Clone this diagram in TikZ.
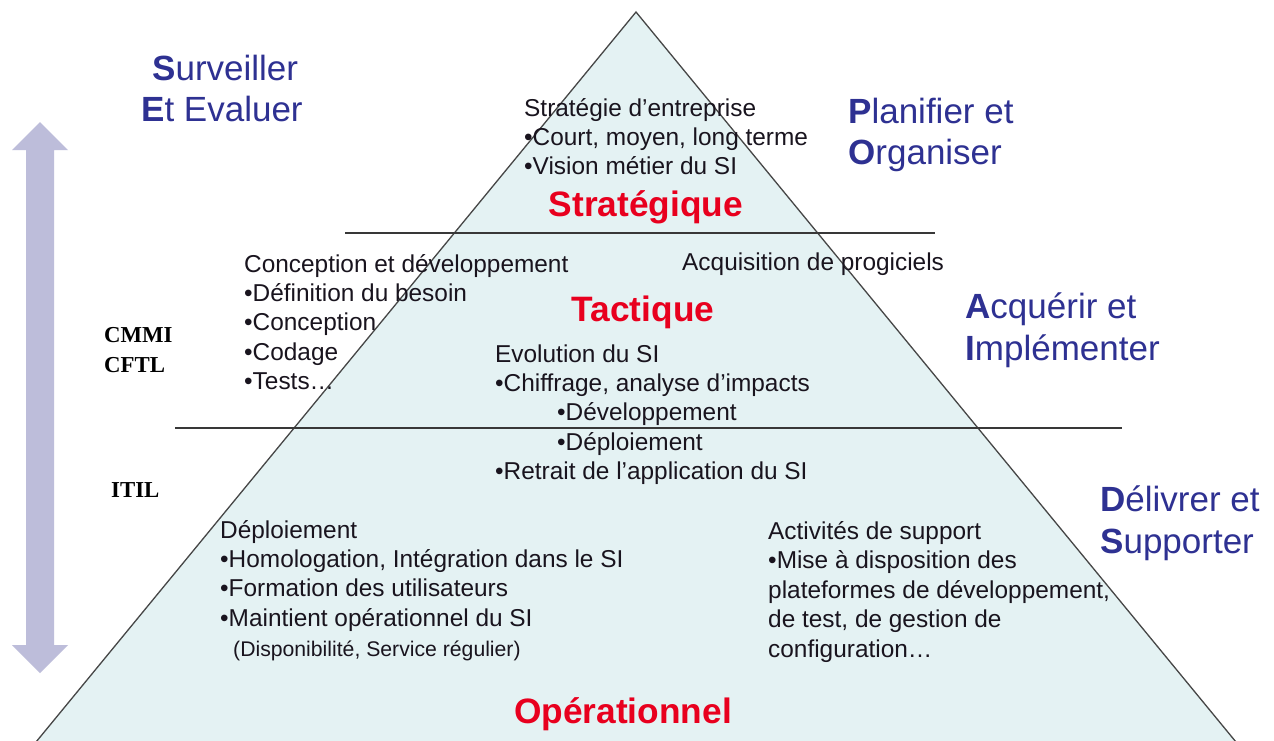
\documentclass[tikz,border=0pt]{standalone}
\usepackage{fontspec}
\setmainfont{Liberation Sans}
\newfontfamily\timesb{Liberation Serif}
\definecolor{pyrfill}{RGB}{228,242,243}
\definecolor{pyredge}{RGB}{70,70,70}
\definecolor{titlered}{RGB}{232,0,30}
\definecolor{dimblue}{RGB}{46,49,146}
\definecolor{arrowfill}{RGB}{189,189,218}
\definecolor{bodytxt}{RGB}{25,20,30}
\begin{document}
\begin{tikzpicture}[x=1pt,y=-1pt,
  txt/.style={inner sep=0pt, anchor=base west, text=bodytxt, font=\fontsize{24.4}{28}\selectfont},
  smalltxt/.style={txt, font=\fontsize{21.2}{24}\selectfont},
  dimlabel/.style={inner sep=0pt, anchor=base west, text=dimblue, font=\fontsize{35}{40}\selectfont},
  leveltitle/.style={inner sep=0pt, anchor=base, text=titlered, font=\fontsize{35.3}{40}\selectfont\bfseries},
  normlabel/.style={inner sep=0pt, anchor=base west, text=black, font=\timesb\fontsize{22.8}{24}\selectfont\bfseries},
  divider/.style={draw=pyredge!80!black, line width=1.4pt}]
\useasboundingbox (0,0) rectangle (1274,740);
\clip (0,0) rectangle (1274,740);
\fill[white] (0,0) rectangle (1274,740);

% pyramid
\coordinate (apex) at (636,12);
\coordinate (bl) at (13,770);
\coordinate (br) at (1259,770);
\path[fill=pyrfill, draw=pyredge, line width=1.3pt] (apex) -- (bl) -- (br) -- cycle;

% dividers
\coordinate (d1a) at (345,233);
\coordinate (d1b) at (935,233);
\coordinate (d2a) at (175,428);
\coordinate (d2b) at (1122,428);
\draw[divider] (d1a) -- (d1b);
\draw[divider] (d2a) -- (d2b);

% double arrow
\fill[arrowfill] (40,122) -- (68,150) -- (54,150) -- (54,645) -- (68,645) -- (40,673)
  -- (12,645) -- (26,645) -- (26,150) -- (12,150) -- cycle;

% domain labels
\node[dimlabel] (se1) at (152,80) {{\bfseries S}urveiller};
\node[dimlabel] (se2) at (141,121) {{\bfseries E}t Evaluer};
\node[dimlabel] (po1) at (848,123) {{\bfseries P}lanifier et};
\node[dimlabel] (po2) at (848,164) {{\bfseries O}rganiser};
\node[dimlabel] (ai1) at (965,318) {{\bfseries A}cquérir et};
\node[dimlabel] (ai2) at (965,360) {{\bfseries I}mplémenter};
\node[dimlabel] (ds1) at (1100,511) {{\bfseries D}élivrer et};
\node[dimlabel] (ds2) at (1100,553) {{\bfseries S}upporter};

% frameworks
\node[normlabel] (cmmi) at (104,342) {CMMI};
\node[normlabel] (cftl) at (104,372) {CFTL};
\node[normlabel] (itil) at (111,497) {ITIL};

% level titles
\node[leveltitle] (strat) at (646,216) {Stratégique};
\node[leveltitle] (tact) at (643,321) {Tactique};
\node[leveltitle] (oper) at (623,723) {Opérationnel};

% strategic text
\foreach \t [count=\i from 0] in {{Stratégie d’entreprise},{•Court, moyen, long terme},{•Vision métier du SI}}
  \node[txt] (st\i) at (524,116+29*\i) {\t};

% tactical text
\foreach \t [count=\i from 0] in {{Conception et développement},{•Définition du besoin},{•Conception},{•Codage},{•Tests…}}
  \node[txt] (cd\i) at (244,272+29.4*\i) {\t};
\node[txt] (acq) at (682,270) {Acquisition de progiciels};
\node[txt] (ev0) at (495,362) {Evolution du SI};
\node[txt] (ev1) at (495,391.5) {•Chiffrage, analyse d’impacts};
\node[txt] (ev2) at (557,420) {•Développement};
\node[txt] (ev3) at (557,450) {•Déploiement};
\node[txt] (ev4) at (495,479) {•Retrait de l’application du SI};

% operational text
\foreach \t [count=\i from 0] in {{Déploiement},{•Homologation, Intégration dans le SI},{•Formation des utilisateurs},{•Maintient opérationnel du SI}}
  \node[txt] (dp\i) at (220,538+29.4*\i) {\t};
\node[smalltxt] (dp4) at (233,656) {(Disponibilité, Service régulier)};
\foreach \t [count=\i from 0] in {{Activités de support},{•Mise à disposition des},{plateformes de développement,},{de test, de gestion de},{configuration…}}
  \node[txt] (as\i) at (768,539+29.6*\i) {\t};
\end{tikzpicture}
\end{document}
